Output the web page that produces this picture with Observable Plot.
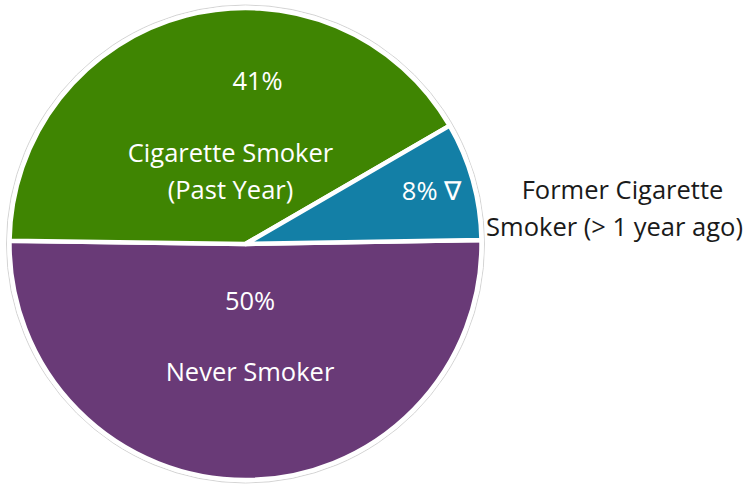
<!DOCTYPE html>
<html><head><meta charset="utf-8">
<script src="https://cdn.jsdelivr.net/npm/d3@7"></script>
<script src="https://cdn.jsdelivr.net/npm/@observablehq/plot@0.6"></script>
<style>body{margin:0;background:#fff}</style>
</head><body><div id="chart"></div>
<script>
const categories = ["Never Smoker", "Cigarette Smoker", "Former Cigarette Smoker"];
const percents = [50, 41, 8];
const pctLabels = ["50%", "41%", "8% \u2207"];
const colors = ["#693a77", "#3f8502", "#137fa6"];

// layout (pixel center & radius of pie)
const CX = 245.5, CY = 244, R = 236;
const W = 749, H = 485;
const startDeg = 89;

const data = categories.map((c, i) => ({category: c, value: percents[i], label: pctLabels[i], color: colors[i]}));
const arcs = d3.pie().value(d => d.value).sort(null)
  .startAngle(startDeg * Math.PI / 180).endAngle((startDeg + 360) * Math.PI / 180)(data);

// label lines: center x and baseline y in pixels
const labels = [
  {text: pctLabels[0], x: 249.5, y: 309, fill: "white"},
  {text: "Never Smoker", x: 249.5, y: 380, fill: "white"},
  {text: pctLabels[1], x: 257, y: 89, fill: "white"},
  {text: "Cigarette Smoker", x: 230, y: 161, fill: "white"},
  {text: "(Past Year)", x: 230, y: 198, fill: "white"},
  {text: pctLabels[2], x: 431, y: 199, fill: "white"},
  {text: "Former Cigarette", x: 622, y: 198, fill: "#1a1a1a"},
  {text: "Smoker (> 1 year ago)", x: 614, y: 235, fill: "#1a1a1a"}
];

function pieMark(index, scales) {
  const x = scales.x, y = scales.y;
  const ox = x(CX), oy = y(CY), r = x(CX + R) - x(CX);
  const g = d3.create("svg:g").attr("transform", `translate(${ox},${oy})`);
  g.append("circle").attr("r", r + 3).attr("fill", "none").attr("stroke", "#d4d4d4").attr("stroke-width", 1);
  const arc = d3.arc().innerRadius(0).outerRadius(r);
  g.selectAll("path").data(arcs).join("path")
    .attr("d", arc)
    .attr("fill", d => d.data.color)
    .attr("stroke", "white")
    .attr("stroke-width", 4.5)
    .attr("stroke-linejoin", "round");
  return g.node();
}

const chart = Plot.plot({
  width: W, height: H, margin: 0,
  x: {domain: [0, W], range: [0, W], axis: null},
  y: {domain: [0, H], range: [0, H], axis: null},
  marks: [
    pieMark,
    Plot.text(labels, {x: "x", y: "y", text: "text", fill: "fill", fontSize: 25.5, fontFamily: "'Open Sans', sans-serif", textAnchor: "middle", lineAnchor: "bottom"})
  ]
});
document.getElementById("chart").appendChild(chart);
</script>
</body></html>
